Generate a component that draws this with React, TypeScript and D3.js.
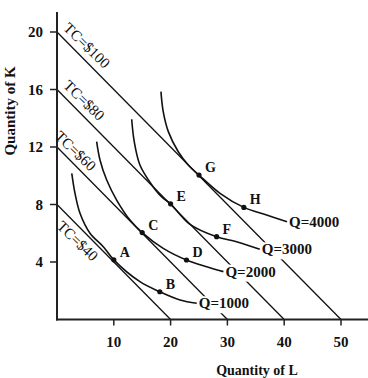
import React from 'react';
import * as d3 from 'd3';

// ---- data ----
const kIntercepts = [8, 12, 16, 20];
const lIntercepts = [20, 30, 40, 50];
const costLabels = ['TC=$40', 'TC=$60', 'TC=$80', 'TC=$100'];

const isoLabels = ['Q=1000', 'Q=2000', 'Q=3000', 'Q=4000'];
const q1000: [number, number][] = [[2.6, 10.17], [3.17, 8.78], [4.05, 7.39], [5.81, 6.0], [8.15, 5.06], [10, 4.15], [14.6, 2.63], [18.1, 1.93], [21.65, 1.36], [24.6, 1.13]];
const q2000: [number, number][] = [[6.98, 12.37], [7.57, 11.1], [8.75, 9.7], [10.5, 8.31], [12.85, 6.92], [15, 6.05], [18.7, 4.95], [22.8, 4.14], [26.35, 3.67], [29.3, 3.33]];
const q3000: [number, number][] = [[13.15, 13.93], [13.6, 12.37], [14.6, 10.75], [16.7, 9.36], [18.4, 8.54], [20, 8.05], [23.35, 6.64], [28.1, 5.76], [31.6, 5.41], [35.7, 4.88]];
const q4000: [number, number][] = [[18.3, 15.85], [18.7, 14.46], [19.6, 13.07], [21.35, 11.67], [23.1, 10.75], [25, 10.05], [28.7, 8.78], [32.9, 7.8], [36.9, 7.27], [40.5, 6.8]];
const isoquants = [q1000, q2000, q3000, q4000];

const pointNames = ['A', 'B', 'C', 'D', 'E', 'F', 'G', 'H'];
const pointL = [10, 18.1, 15, 22.8, 20, 28.1, 25, 32.9];
const pointK = [4.15, 1.93, 6.05, 4.14, 8.05, 5.76, 10.05, 7.8];

const xTicks = [10, 20, 30, 40, 50];
const yTicks = [4, 8, 12, 16, 20];

// ---- layout ----
const W = 368;
const H = 378;
const FONT = '"Liberation Serif", "Times New Roman", serif';
const tcOffsets: [number, number][] = [[15, 17], [-9, -5], [2, -6], [2, -6]];

export default function App() {
  const x = d3.scaleLinear().domain([0, 50]).range([57, 341]);
  const y = d3.scaleLinear().domain([0, 20]).range([319.5, 32]);
  const line = d3
    .line<[number, number]>()
    .x((d) => x(d[0]))
    .y((d) => y(d[1]))
    .curve(d3.curveCatmullRom.alpha(0.5));
  const textAngle = 44;

  return (
    <svg width={W} height={H} style={{ position: 'absolute', left: 0, top: 0, background: '#fff' }} fontFamily={FONT}>
      {/* budget lines */}
      {kIntercepts.map((k, i) => (
        <line key={'b' + i} x1={x(0)} y1={y(k)} x2={x(lIntercepts[i])} y2={y(0)} stroke="#111" strokeWidth={1.3} />
      ))}
      {/* label knockouts */}
      {isoquants.map((q, i) => {
        const end = q[q.length - 1];
        return <rect key={'r' + i} x={x(end[0]) + 1} y={y(end[1]) - 7} width={52} height={17} fill="#fff" />;
      })}
      {/* isoquants */}
      {isoquants.map((q, i) => (
        <path key={'q' + i} d={line(q) || ''} fill="none" stroke="#111" strokeWidth={1.6} />
      ))}
      {isoquants.map((q, i) => {
        const end = q[q.length - 1];
        return (
          <text key={'qt' + i} x={x(end[0]) + 2} y={y(end[1]) + 5} fontSize={15} fontWeight="bold" fill="#111">
            {isoLabels[i]}
          </text>
        );
      })}
      {/* axes */}
      <line x1={57} y1={12} x2={57} y2={320.5} stroke="#222" strokeWidth={2} />
      <line x1={56} y1={y(0)} x2={W} y2={y(0)} stroke="#222" strokeWidth={2} />
      {xTicks.map((t) => (
        <g key={'xt' + t}>
          <line x1={x(t)} x2={x(t)} y1={y(0)} y2={y(0) + 6} stroke="#222" strokeWidth={1.5} />
          <text x={x(t)} y={347} textAnchor="middle" fontSize={15} fontWeight="bold" fill="#111">
            {t}
          </text>
        </g>
      ))}
      {yTicks.map((t) => (
        <g key={'yt' + t}>
          <line x1={50} x2={57} y1={y(t)} y2={y(t)} stroke="#222" strokeWidth={1.5} />
          <text x={43} y={y(t) + 5} textAnchor="end" fontSize={15} fontWeight="bold" fill="#111">
            {t}
          </text>
        </g>
      ))}
      <text x={257} y={375} textAnchor="middle" fontSize={14} fontWeight="bold" fill="#111">
        Quantity of L
      </text>
      <text transform={`translate(15,111) rotate(-90)`} textAnchor="middle" fontSize={15} fontWeight="bold" fill="#111">
        Quantity of K
      </text>
      {/* cost labels */}
      {kIntercepts.map((k, i) => (
        <text
          key={'tc' + i}
          transform={`translate(${x(0)},${y(k)}) rotate(${textAngle})`}
          x={tcOffsets[i][0]}
          y={tcOffsets[i][1]}
          fontSize={15}
          fill="#111"
        >
          {costLabels[i]}
        </text>
      ))}
      {/* points */}
      {pointNames.map((n, i) => (
        <g key={'p' + n}>
          <circle cx={x(pointL[i])} cy={y(pointK[i])} r={2.6} fill="#111" />
          <text x={x(pointL[i]) + 6} y={y(pointK[i]) - 3} fontSize={14} fontWeight="bold" fill="#111">
            {n}
          </text>
        </g>
      ))}
    </svg>
  );
}
